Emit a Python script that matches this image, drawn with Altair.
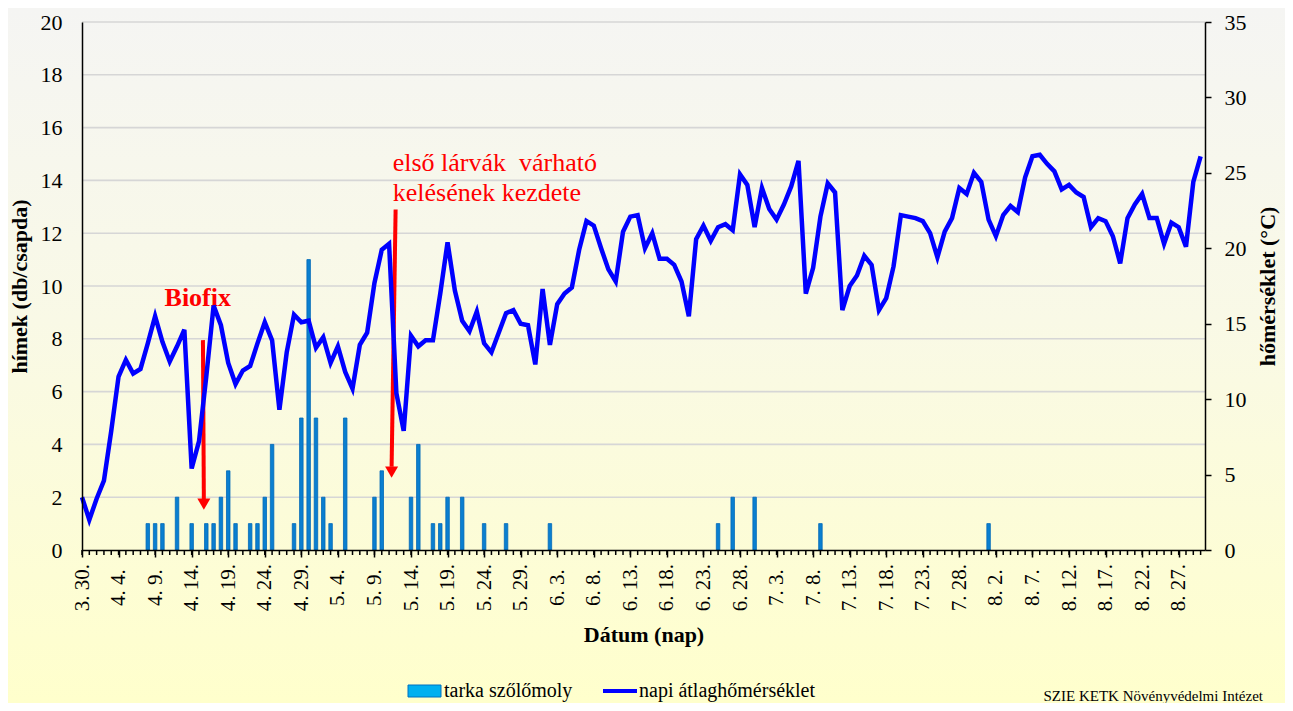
import altair as alt
import pandas as pd

# ---------------- data ----------------
start_date = "2023-03-30"
temps = [3.5, 2.0, 3.4, 4.6, 7.9, 11.5, 12.6, 11.7, 12.0, 13.7,
         15.5, 13.8, 12.5, 13.5, 14.6, 5.4, 7.2, 11.5, 16.2, 14.9,
         12.4, 11.0, 11.9, 12.2, 13.7, 15.1, 13.9, 9.3, 13.1, 15.6,
         15.1, 15.2, 13.4, 14.1, 12.4, 13.5, 11.8, 10.7, 13.6, 14.4,
         17.7, 19.9, 20.3, 10.4, 7.9, 14.2, 13.5, 13.9, 13.9, 17.0,
         20.4, 17.2, 15.2, 14.5, 15.8, 13.7, 13.1, 14.4, 15.7, 15.9,
         15.0, 14.9, 12.3, 17.3, 13.6, 16.3, 17.0, 17.4, 19.9, 21.8,
         21.5, 20.0, 18.6, 17.8, 21.1, 22.1, 22.2, 20.0, 21.0, 19.3,
         19.3, 18.9, 17.8, 15.5, 20.6, 21.5, 20.5, 21.4, 21.6, 21.2,
         24.9, 24.2, 21.4, 24.0, 22.6, 21.9, 22.9, 24.1, 25.8, 17.0,
         18.7, 22.1, 24.3, 23.7, 15.9, 17.5, 18.2, 19.5, 18.9, 15.9,
         16.7, 18.8, 22.2, 22.1, 22.0, 21.8, 21.0, 19.4, 21.1, 22.0,
         24.0, 23.6, 25.0, 24.4, 21.9, 20.8, 22.2, 22.8, 22.4, 24.7,
         26.1, 26.2, 25.6, 25.1, 23.9, 24.2, 23.7, 23.4, 21.4, 22.0,
         21.8, 20.8, 19.0, 22.0, 22.9, 23.6, 22.0, 22.0, 20.3, 21.7,
         21.4, 20.1, 24.4, 26.1]

bar_dates = ["2023-04-08", "2023-04-09", "2023-04-10", "2023-04-12", "2023-04-14",
             "2023-04-16", "2023-04-17", "2023-04-18", "2023-04-19", "2023-04-20",
             "2023-04-22", "2023-04-23", "2023-04-24", "2023-04-25", "2023-04-28",
             "2023-04-29", "2023-04-30", "2023-05-01", "2023-05-02", "2023-05-03",
             "2023-05-05", "2023-05-09", "2023-05-10", "2023-05-14", "2023-05-15",
             "2023-05-17", "2023-05-18", "2023-05-19", "2023-05-21", "2023-05-24",
             "2023-05-27", "2023-06-02", "2023-06-25", "2023-06-27", "2023-06-30",
             "2023-07-09", "2023-08-01"]
bar_counts = [1, 1, 1, 2, 1,
              1, 1, 2, 3, 1,
              1, 1, 2, 4, 1,
              5, 11, 5, 2, 1,
              5, 2, 3, 2, 4,
              1, 1, 2, 2, 1,
              1, 1, 1, 2, 2,
              1, 1]

x_tick_dates = ["2023-03-30", "2023-04-04", "2023-04-09", "2023-04-14", "2023-04-19",
                "2023-04-24", "2023-04-29", "2023-05-04", "2023-05-09", "2023-05-14",
                "2023-05-19", "2023-05-24", "2023-05-29", "2023-06-03", "2023-06-08",
                "2023-06-13", "2023-06-18", "2023-06-23", "2023-06-28", "2023-07-03",
                "2023-07-08", "2023-07-13", "2023-07-18", "2023-07-23", "2023-07-28",
                "2023-08-02", "2023-08-07", "2023-08-12", "2023-08-17", "2023-08-22",
                "2023-08-27"]
left_ticks = [0, 2, 4, 6, 8, 10, 12, 14, 16, 18, 20]
right_ticks = [0, 5, 10, 15, 20, 25, 30, 35]

# annotation arrows (date, value on left axis)
arrow_top_dates = ["2023-04-15T13:00:00", "2023-05-11T21:30:00"]
arrow_tip_dates = ["2023-04-15T16:00:00", "2023-05-11T08:20:00"]
arrow_tops = [7.95, 12.9]
arrow_ends = [1.9, 3.15]
arrow_heads = [1.74, 2.95]

# ---------------- tables ----------------
dates = pd.date_range(start_date, periods=len(temps), freq="D")
temp_df = pd.DataFrame({"date": dates.strftime("%Y-%m-%dT00:00:00"), "temp": temps})
day_df = pd.DataFrame({"date": dates.strftime("%Y-%m-%dT00:00:00")})
bar_df = pd.DataFrame({"date": [d + "T00:00:00" for d in bar_dates], "count": bar_counts})
grid_df = pd.DataFrame({"v": left_ticks[1:]})
arrow_df = pd.DataFrame({"date": arrow_top_dates, "date2": arrow_tip_dates,
                         "top": arrow_tops, "end": arrow_ends, "head": arrow_heads})
text_df = pd.DataFrame({
    "date": ["2023-04-14T20:00:00", "2023-05-11T12:00:00", "2023-05-11T12:00:00"],
    "v": [9.55, 14.66, 13.52],
    "label": ["Biofix", "első lárvák\u00a0 várható", "kelésének kezdete"],
})
one = pd.DataFrame({"a": [0]})

# ---------------- layout ----------------
W, H = 1123, 528
PAD = {"left": 74, "top": 14, "right": 80, "bottom": 153}
FONT = "Liberation Serif"

tick_vals = [alt.DateTime(year=d.year, month=d.month, date=d.day)
             for d in pd.to_datetime(x_tick_dates)]
x_scale = alt.Scale(domain=[alt.DateTime(year=2023, month=3, date=30),
                            alt.DateTime(year=2023, month=8, date=30, hours=14, minutes=24)],
                    padding=0, nice=False)
x_axis = alt.Axis(values=tick_vals, format="%-m. %-d.", labelAngle=270,
                  labelAlign="center", labelBaseline="middle", labelPadding=30,
                  labelFont=FONT, labelFontSize=21, labelColor="black",
                  labelOverlap=False, labelFlush=False,
                  tickSize=7, tickWidth=1.5, tickColor="black",
                  domainColor="black", domainWidth=1.5, grid=False,
                  title="Dátum (nap)", titleFont=FONT, titleFontSize=22,
                  titleFontWeight="bold", titleColor="black", titlePadding=14,
                  zindex=1)


def xenc(field="date"):
    return alt.X(f"{field}:T", scale=x_scale, axis=x_axis)


left_scale = alt.Scale(domain=[0, 20], nice=False)
left_axis = alt.Axis(orient="left", values=left_ticks, ticks=False, tickSize=0,
                     labelPadding=20, labelFont=FONT, labelFontSize=22, labelColor="black",
                     domainColor="black", domainWidth=1.5, grid=False,
                     title="hímek (db/csapda)", titleFont=FONT, titleFontSize=22,
                     titleFontWeight="bold", titleColor="black", titlePadding=9, zindex=1)
right_axis = alt.Axis(orient="right", values=right_ticks, tickSize=6, tickWidth=1.5,
                      tickColor="black", labelPadding=13, labelFont=FONT, labelFontSize=22,
                      labelColor="black", domainColor="black", domainWidth=1.5, grid=False,
                      title="hőmérséklet (°C)", titleFont=FONT, titleFontSize=22,
                      titleFontWeight="bold", titleColor="black", titlePadding=11,
                      titleAngle=270, titleBaseline="top", zindex=1)


def yleft(field):
    return alt.Y(f"{field}:Q", scale=left_scale, axis=left_axis, title="hímek (db/csapda)")


gradient = {"gradient": "linear", "x1": 0, "x2": 0, "y1": 0, "y2": 1,
            "stops": [{"offset": 0, "color": "#F5F5F3"},
                      {"offset": 0.45, "color": "#F9F9E6"},
                      {"offset": 1, "color": "#FFFFCC"}]}

bg = alt.Chart(one).mark_rect(fill=gradient).encode(
    x=alt.value(-PAD["left"]), x2=alt.value(W + PAD["right"]),
    y=alt.value(-PAD["top"]), y2=alt.value(H + PAD["bottom"]))

minor_ticks = alt.Chart(day_df).mark_rule(color="black", strokeWidth=1.5).encode(
    x=xenc(), y=alt.value(H), y2=alt.value(H + 5))

grid = alt.Chart(grid_df).mark_rule(color="#D6D6D6", strokeWidth=1.6).encode(
    y=yleft("v"))

bars = alt.Chart(bar_df).mark_bar(size=3.5, fill="#0A7FD0", stroke="#0068B8",
                                  strokeWidth=0.8).encode(
    x=xenc(), y=yleft("count"))

shafts = alt.Chart(arrow_df).mark_rule(color="#FF0000", strokeWidth=4).encode(
    x=xenc(), x2=alt.X2("date2:T"),
    y=yleft("top"), y2=alt.Y2("end:Q"))

heads = alt.Chart(arrow_df).mark_point(shape="triangle-down", size=170, filled=True,
                                       color="#FF0000", opacity=1).encode(
    x=xenc("date2"), y=yleft("head"))

biofix = alt.Chart(text_df.iloc[[0]]).mark_text(font=FONT, fontSize=26, fontWeight="bold",
                                                color="#FF0000", align="center",
                                                baseline="middle").encode(
    x=xenc(), y=yleft("v"), text="label:N")

larva = alt.Chart(text_df.iloc[1:]).mark_text(font=FONT, fontSize=26, color="#FF0000",
                                              align="left", baseline="middle").encode(
    x=xenc(), y=yleft("v"), text="label:N")

left_group = alt.layer(grid, bars, shafts, heads, biofix, larva)

line = alt.Chart(temp_df).mark_line(color="#0000FF", strokeWidth=4.5).encode(
    x=xenc(), y=alt.Y("temp:Q", scale=alt.Scale(domain=[0, 35], nice=False),
                      axis=right_axis, title="hőmérséklet (°C)"))

# legend (manual, bottom centre)
leg_rect = alt.Chart(one).mark_rect(fill="#00B0F0", stroke="#0070C0", strokeWidth=1).encode(
    x=alt.value(326), x2=alt.value(359), y=alt.value(663), y2=alt.value(675))
leg_text1 = alt.Chart(one).mark_text(text="tarka szőlőmoly", font=FONT, fontSize=20,
                                     color="black", align="left", baseline="middle").encode(
    x=alt.value(362), y=alt.value(669))
leg_line = alt.Chart(one).mark_rule(color="#0000FF", strokeWidth=4).encode(
    x=alt.value(521), x2=alt.value(555), y=alt.value(669))
leg_text2 = alt.Chart(one).mark_text(text="napi átlaghőmérséklet", font=FONT, fontSize=20,
                                     color="black", align="left", baseline="middle").encode(
    x=alt.value(557), y=alt.value(669))
source = alt.Chart(one).mark_text(text="SZIE KETK Növényvédelmi Intézet", font=FONT,
                                  fontSize=15, color="black", align="right",
                                  baseline="alphabetic").encode(
    x=alt.value(1181), y=alt.value(679))

chart = alt.layer(bg, minor_ticks, left_group, line,
                  leg_rect, leg_text1, leg_line, leg_text2, source).resolve_scale(
    y="independent"
).properties(
    width=W, height=H,
    autosize=alt.AutoSizeParams(type="none"),
    padding=PAD,
).configure_view(strokeWidth=0).configure(background="#FBFBE4", font=FONT)

chart.save("out.html", embed_options={"renderer": "svg", "actions": False})
